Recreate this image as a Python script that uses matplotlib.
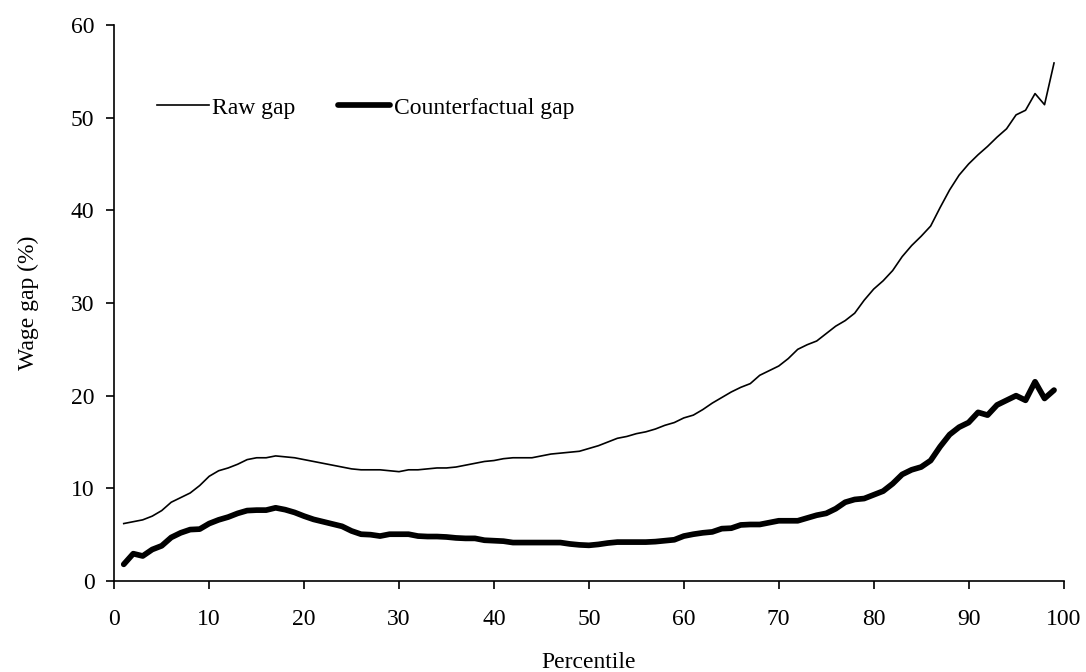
import matplotlib
matplotlib.use('Agg')
import matplotlib.pyplot as plt
import numpy as np

plt.rcParams['font.family'] = ['Liberation Serif', 'DejaVu Serif']

percentile = np.arange(1, 100)

raw_gap = [6.2, 6.4, 6.6, 7.0, 7.6, 8.5, 9.0, 9.5, 10.3, 11.3,
           11.9, 12.2, 12.6, 13.1, 13.3, 13.3, 13.5, 13.4, 13.3, 13.1,
           12.9, 12.7, 12.5, 12.3, 12.1, 12.0, 12.0, 12.0, 11.9, 11.8,
           12.0, 12.0, 12.1, 12.2, 12.2, 12.3, 12.5, 12.7, 12.9, 13.0,
           13.2, 13.3, 13.3, 13.3, 13.5, 13.7, 13.8, 13.9, 14.0, 14.3,
           14.6, 15.0, 15.4, 15.6, 15.9, 16.1, 16.4, 16.8, 17.1, 17.6,
           17.9, 18.5, 19.2, 19.8, 20.4, 20.9, 21.3, 22.2, 22.7, 23.2,
           24.0, 25.0, 25.5, 25.9, 26.7, 27.5, 28.1, 28.9, 30.3, 31.5,
           32.4, 33.5, 35.0, 36.2, 37.2, 38.3, 40.3, 42.2, 43.8, 45.0,
           46.0, 46.9, 47.9, 48.8, 50.3, 50.8, 52.6, 51.4, 55.9]

counterfactual_gap = [1.8, 2.95, 2.7, 3.4, 3.8, 4.7, 5.2, 5.55, 5.6, 6.2,
                      6.6, 6.9, 7.3, 7.6, 7.65, 7.65, 7.9, 7.7, 7.4, 7.0,
                      6.65, 6.4, 6.15, 5.9, 5.4, 5.05, 5.0, 4.85, 5.05, 5.05,
                      5.05, 4.85, 4.8, 4.8, 4.75, 4.65, 4.6, 4.6, 4.4, 4.35,
                      4.3, 4.15, 4.15, 4.15, 4.15, 4.15, 4.15, 4.0, 3.9, 3.85,
                      3.95, 4.1, 4.2, 4.2, 4.2, 4.2, 4.25, 4.35, 4.45, 4.85,
                      5.05, 5.2, 5.3, 5.65, 5.7, 6.05, 6.1, 6.1, 6.3, 6.5,
                      6.5, 6.5, 6.8, 7.1, 7.3, 7.8, 8.5, 8.8, 8.9, 9.3,
                      9.7, 10.5, 11.5, 12.0, 12.3, 13.0, 14.5, 15.8, 16.6, 17.1,
                      18.2, 17.9, 19.0, 19.5, 20.0, 19.5, 21.5, 19.7, 20.6]

x_ticks = list(range(0, 101, 10))
y_ticks = list(range(0, 61, 10))

fig = plt.figure(figsize=(10.86, 6.72), dpi=100)
ax = fig.add_axes([0.1052, 0.1354, 0.8741, 0.8274])

ax.plot(percentile, raw_gap, color='black', lw=1.2, label='Raw gap')
ax.plot(percentile, counterfactual_gap, color='black', lw=4.1,
        solid_capstyle='round', solid_joinstyle='round', label='Counterfactual gap')

ax.set_xlim(0, 100)
ax.set_ylim(0, 60)
ax.set_xticks(x_ticks)
ax.set_yticks(y_ticks)

for s in ['top', 'right']:
    ax.spines[s].set_visible(False)
for s in ['left', 'bottom']:
    ax.spines[s].set_linewidth(1.2)

ax.tick_params(axis='both', direction='out', length=5.8, width=1.2, labelsize=17)
ax.tick_params(axis='x', pad=14)
ax.tick_params(axis='y', pad=8.5)

ax.set_xlabel('Percentile', fontsize=17, labelpad=16)
ax.set_ylabel('Wage gap (%)', fontsize=17, labelpad=23)

leg = ax.legend(loc='center left', bbox_to_anchor=(0.0448, 0.851), ncol=2,
                frameon=False, fontsize=17, borderpad=0, borderaxespad=0,
                handlelength=2.2, handletextpad=0.16, columnspacing=1.8)

fig.savefig('out.png', dpi=100)
